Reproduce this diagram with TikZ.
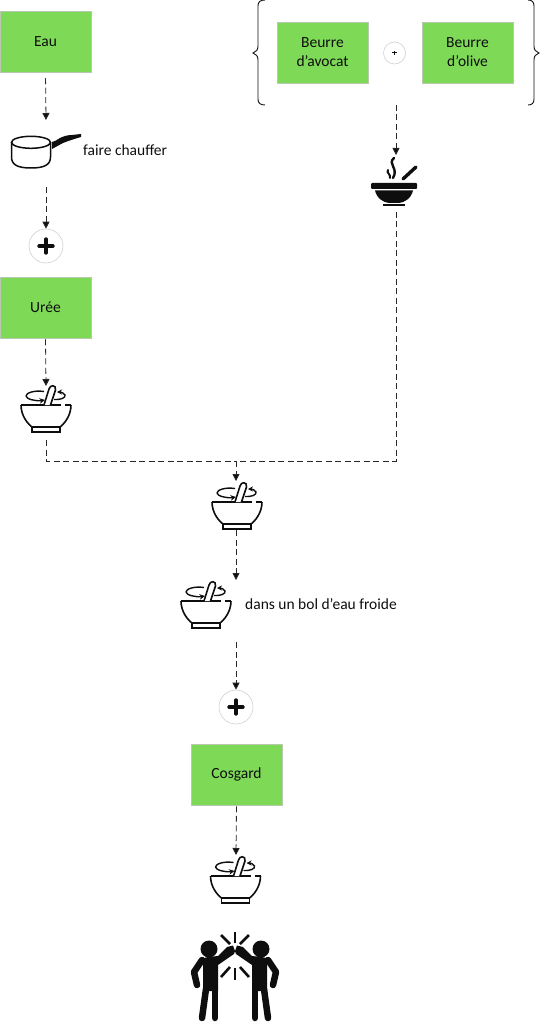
\documentclass[tikz,border=0pt]{standalone}
\usepackage{fontspec}
\setmainfont{Carlito}
\usetikzlibrary{positioning,arrows.meta,calc}
\definecolor{ink}{HTML}{0E0E0E}
\definecolor{boxgreen}{HTML}{7ED957}
\definecolor{boxline}{HTML}{B9C9B0}
\definecolor{circline}{HTML}{CFCFCF}
\definecolor{flowc}{HTML}{262626}

\tikzset{
  ingredient/.style={draw=boxline, fill=boxgreen, line width=0.5pt, minimum width=91pt, minimum height=61pt, align=center, inner sep=0pt, font=\fontsize{15.5}{19}\selectfont, text=ink},
  comment/.style={anchor=west, inner sep=0pt, font=\fontsize{15.5}{18}\selectfont, text=ink},
  plusbig/.style={circle, draw=circline, line width=0.6pt, minimum size=34pt, inner sep=0pt},
  plussmall/.style={circle, draw=circline, line width=0.6pt, minimum size=22pt, inner sep=0pt},
  iconzone/.style={inner sep=0pt, minimum width=#1, minimum height=10pt},
  flow/.style={draw=flowc, line width=0.8pt, dash pattern=on 6pt off 3.5pt},
  flowarrow/.style={flow, -{Triangle[length=7pt,width=7pt,fill=ink]}},
  pics/mortar/.style={code={
    \draw[draw=ink, line width=1.6pt] (-25,0) -- (15,0) (19,0) -- (25,0);
    \draw[draw=ink, line width=1.6pt, line join=round] (-25,0) .. controls (-25,11) and (-18,19) .. (-14,22) -- (14,22) .. controls (18,19) and (25,11) .. (25,0);
    \draw[draw=ink, line width=1.6pt] (-14,22) rectangle (14,27);
    \draw[draw=ink, line width=1.4pt] (-2,-13.5) .. controls (-12,-15) and (-20,-12) .. (-20,-9);
    \draw[draw=ink, line width=1.4pt, -{Stealth[length=5.5pt,width=5.5pt]}] (-20,-9) .. controls (-20,-6) and (-10,-3.5) .. (-1,-5);
    \draw[draw=ink, line width=1.4pt, -{Stealth[length=5pt,width=5pt]}] (8,-5.5) .. controls (14,-5) and (20,-7) .. (19,-10) .. controls (18,-12) and (15,-13) .. (11,-13);
    \draw[draw=ink, fill=white, line width=1.6pt] (-2,0) -- (3,-16) .. controls (4,-20.5) and (10.5,-20.5) .. (9.5,-15) -- (4.5,0);
  }},
  pics/pot/.style={code={
    \draw[draw=ink, line width=1.5pt] (-15,-7.7) ellipse (19.5 and 6);
    \draw[draw=ink, line width=1.5pt] (-34.5,-7.7) -- (-34.5,7) .. controls (-34.5,15) and (-28,18) .. (-15,18) .. controls (-2,18) and (4.5,15) .. (4.5,7) -- (4.5,-7.7);
    \fill[ink] (6,-8) .. controls (10,-9) and (12,-11) .. (14,-12) .. controls (18,-14) and (22,-15) .. (26,-15) -- (35,-16) -- (35,-13) .. controls (28,-11) and (22,-9) .. (17,-7) -- (6,-1) -- cycle;
  }},
  pics/hotbowl/.style={code={
    \fill[ink, rounded corners=1pt] (-23,-1) rectangle (23,5);
    \fill[ink] (-19,6.5) -- (19,6.5) .. controls (17,15) and (10,18.5) .. (5,19) -- (-5,19) .. controls (-10,18.5) and (-17,15) .. (-19,6.5) -- cycle;
    \fill[ink] (-11,20.5) rectangle (11,22.5);
    \draw[draw=ink, line width=3.4pt, line cap=round] (9,-5) -- (22,-17);
    \draw[draw=ink, line width=2.4pt, line cap=round] (0,-26) .. controls (-7,-20) and (5,-16) .. (-1,-6);
    \draw[draw=ink, line width=2pt, line cap=round] (-6,-14) .. controls (-8,-11) and (-3,-10) .. (-4,-6);
  }},
  pics/fiver/.style={code={
    \fill[ink] (-26,2) circle (8.5);
    \fill[ink] (-2,-1.5) -- (0,4) -- (-1,7) -- (-17,18) -- (-17,44) -- (-32,44) -- (-32,14) .. controls (-32,11) and (-30,10) .. (-27,10) -- (-17,9) -- (-8,0) -- cycle;
    \draw[draw=ink, line width=6.5pt, line join=round, line cap=round] (-33,13) -- (-41,25) -- (-38,38);
    \draw[draw=ink, line width=6.5pt, line cap=round] (-29,42) -- (-33,71);
    \draw[draw=ink, line width=6.5pt, line cap=round] (-20,42) -- (-20,71);
  }},
}

\begin{document}
\begin{tikzpicture}[x=1pt, y=-1pt, font=\fontsize{15.5}{18}\selectfont]
\useasboundingbox (0,0) rectangle (540,1024);

% Left column
\node[ingredient] (eau) at (45.5,41.5) {Eau};
\node[iconzone=70pt] (potzone) at (46,150) {};
\pic at (potzone) {pot};
\node[comment] (chauffer) at (83,150) {faire chauffer};
\node[plusbig] (plusa) at (46,246) {};
\node[ingredient] (uree) at (45.5,307.5) {Urée};
\node[iconzone=50pt] (mortara) at (46,405) {};
\pic at (mortara) {mortar};

% Right group
\node[ingredient] (avocat) at (322.5,52.5) {Beurre\\d’avocat};
\node[plussmall] (plusb) at (394.5,53) {};
\node[ingredient] (olive) at (467.5,52.5) {Beurre\\d’olive};
\coordinate (accolade) at (396,105);
\node[iconzone=48pt] (hotzone) at (394,184) {};
\pic at (hotzone) {hotbowl};

% Braces
\draw[draw=ink, line width=0.9pt] (265,0) .. controls (260,0) and (258,2) .. (258,6) -- (258,46) .. controls (258,50) and (256,52) .. (253,53) .. controls (256,54) and (258,56) .. (258,60) -- (258,99) .. controls (258,103) and (260,105) .. (265,105);
\draw[draw=ink, line width=0.9pt] (528,0) .. controls (532,0) and (534,2) .. (534,6) -- (534,46) .. controls (534,50) and (536,52) .. (539,53) .. controls (536,54) and (534,56) .. (534,60) -- (534,99) .. controls (534,103) and (532,105) .. (528,105);

% Lower column
\coordinate (jonction) at (236,461);
\node[iconzone=50pt] (mortarb) at (237,502) {};
\pic at (mortarb) {mortar};
\node[iconzone=50pt] (mortarc) at (206,601) {};
\pic at (mortarc) {mortar};
\node[comment] (bol) at (245,604) {dans un bol d’eau froide};
\node[plusbig] (plusc) at (236,707) {};
\node[ingredient] (cosgard) at (236.5,774.5) {Cosgard};
\node[iconzone=50pt] (mortard) at (235.5,876) {};
\pic at (mortard) {mortar};
\node[iconzone=88pt] (fivezone) at (235,947) {};

% Plus signs
\foreach \n/\s in {plusa/7,plusc/7} {
  \draw[draw=ink, line width=3.4pt, line cap=round] ($(\n)+(-\s,0)$) -- ($(\n)+(\s,0)$) ($(\n)+(0,-\s)$) -- ($(\n)+(0,\s)$);
}
\draw[draw=ink, line width=1pt] ($(plusb)+(-2.2,0)$) -- ($(plusb)+(2.2,0)$) ($(plusb)+(0,-2.2)$) -- ($(plusb)+(0,2.2)$);

% High five
\foreach \s in {1,-1} {
  \begin{scope}[shift={(fivezone)}, xscale=\s]
    \pic[transform shape] at (0,0) {fiver};
    \draw[draw=ink, line width=2.6pt] (-14,-12) -- (-5,-3);
    \draw[draw=ink, line width=2.6pt] (-14,30) -- (-5,20);
  \end{scope}
}
\draw[draw=ink, line width=2.6pt] ($(fivezone)+(0,-15)$) -- ($(fivezone)+(0,-4)$);
\draw[draw=ink, line width=2.6pt] ($(fivezone)+(0,21)$) -- ($(fivezone)+(0,33)$);

% Connectors
\draw[flowarrow, shorten <=6pt] (eau.south) -- ($(potzone)+(0,-30)$);
\draw[flowarrow, shorten <=32pt] (potzone) -- (plusa.north);
\draw[flowarrow, shorten <=1pt] (uree.south) -- ($(mortara)+(0,-19)$);
\draw[flowarrow] (accolade) -- ($(accolade)+(0,50)$);
\draw[flow, shorten <=28pt] (hotzone.center -| accolade) |- (jonction);
\draw[flow, shorten <=30pt] (mortara) |- (jonction);
\draw[flowarrow] (jonction) -- ($(mortarb)+(-1,-21)$);
\draw[flowarrow, shorten <=28pt] (mortarb.center -| jonction) -- ($(jonction |- mortarc)+(0,-21)$);
\draw[flowarrow] ($(jonction)+(0,181)$) -- (plusc.north);
\draw[flowarrow, shorten <=1pt] (cosgard.south) -- ($(mortard)+(0.5,-21)$);
\end{tikzpicture}
\end{document}
